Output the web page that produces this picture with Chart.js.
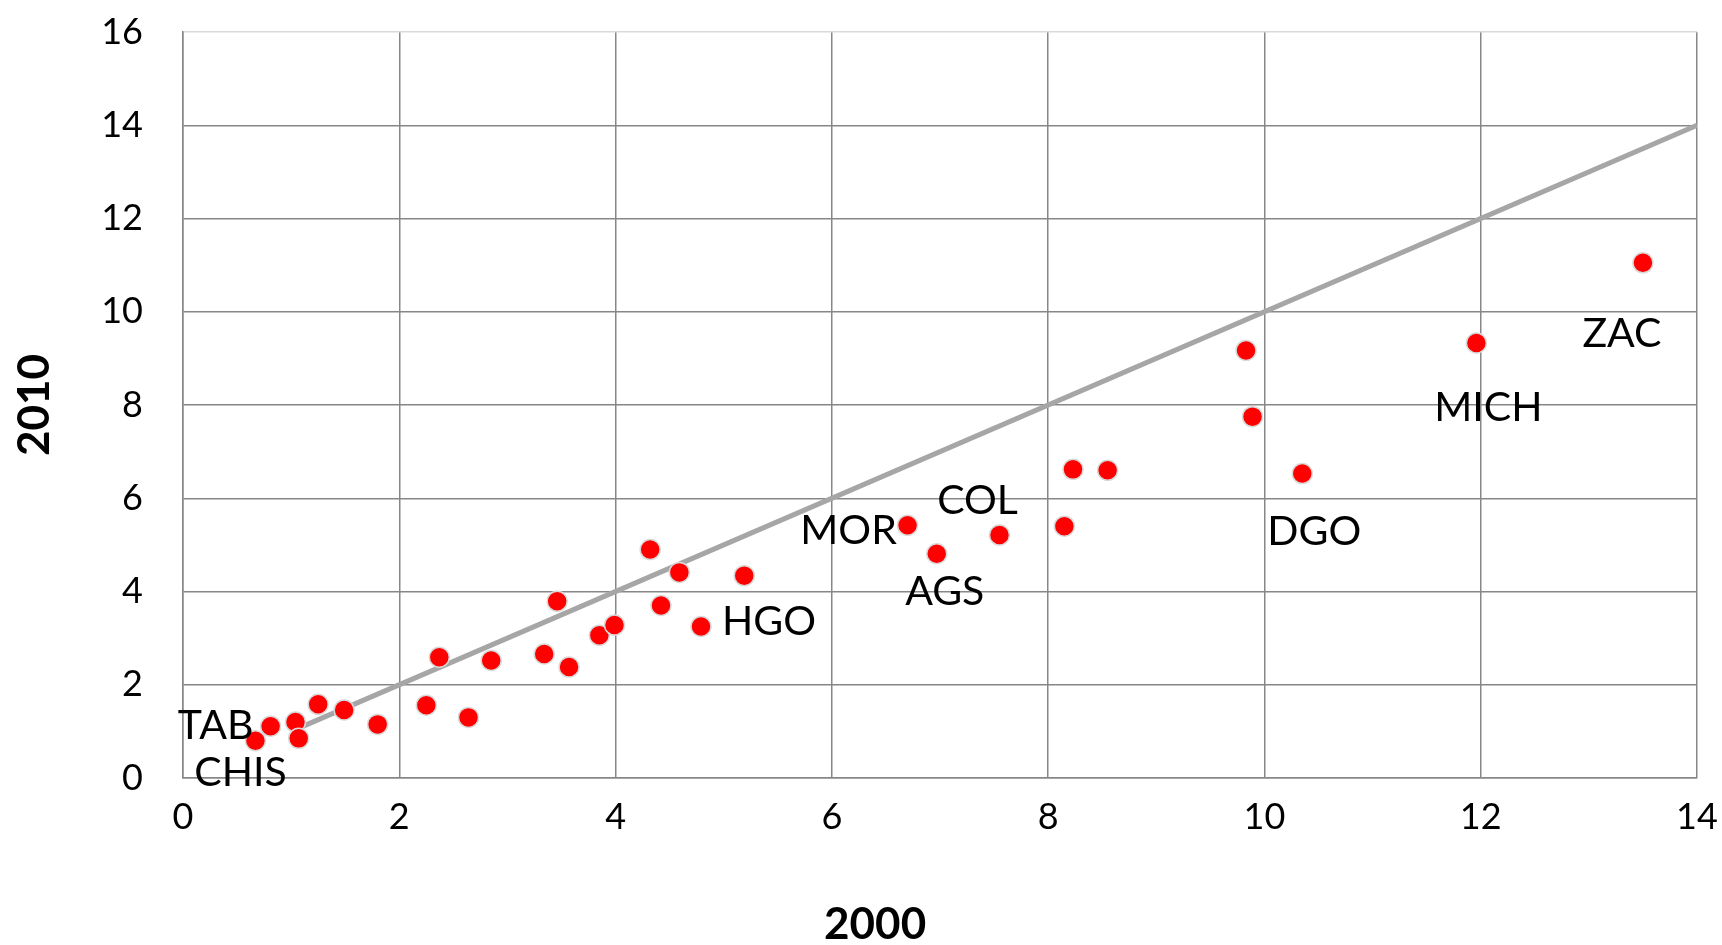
<!DOCTYPE html>
<html>
<head>
<meta charset="utf-8">
<script src="https://cdn.jsdelivr.net/npm/chart.js@4.4.1/dist/chart.umd.min.js"></script>
<style>
  html, body { margin: 0; padding: 0; background: #fff; }
</style>
</head>
<body>
<canvas id="chart" width="1722" height="945"></canvas>
<script>
// values
const x2000 = [0.67, 0.81, 1.04, 1.07, 1.25, 1.49, 1.80, 2.25, 2.37, 2.64, 2.85, 3.34, 3.46, 3.57, 3.85, 3.99,
  4.32, 4.42, 4.59, 4.79, 5.19, 6.70, 6.97, 7.55, 8.15, 8.23, 8.55, 9.83, 9.89, 10.35, 11.96, 13.50];
const y2010 = [0.80, 1.11, 1.20, 0.85, 1.58, 1.46, 1.15, 1.56, 2.59, 1.30, 2.52, 2.66, 3.79, 2.38, 3.06, 3.28,
  4.90, 3.70, 4.41, 3.25, 4.34, 5.42, 4.81, 5.21, 5.40, 6.62, 6.60, 9.17, 7.75, 6.53, 9.33, 11.05];
const stateNames = ['CHIS', 'TAB', '', '', '', '', '', '', '', '', '', '', '', '', '', '',
  '', '', '', 'HGO', '', 'MOR', 'AGS', 'COL', '', '', '', '', '', 'DGO', 'MICH', 'ZAC'];
const refLineX = [1, 14];
const refLineY = [1, 14];
const xTitle = '2000';
const yTitle = '2010';

// where each label sits relative to its point (px)
const labelOffsets = {
  TAB: [-55, 0], CHIS: [-15, 32], HGO: [68, -5], MOR: [-59, 5], AGS: [8, 38],
  COL: [-22, -34], DGO: [12, 58], MICH: [12, 65], ZAC: [-21, 71]
};

const fontFamily = 'Lato, "Open Sans", sans-serif';

const pointLabels = {
  id: 'pointLabels',
  afterDatasetsDraw(chart) {
    const { ctx, scales } = chart;
    ctx.save();
    ctx.font = '41px ' + fontFamily;
    ctx.fillStyle = '#000';
    ctx.textAlign = 'center';
    ctx.textBaseline = 'middle';
    stateNames.forEach((name, i) => {
      if (!name) return;
      const off = labelOffsets[name] || [0, 0];
      const px = scales.x.getPixelForValue(x2000[i]);
      const py = scales.y.getPixelForValue(y2010[i]);
      ctx.fillText(name, px + off[0], py + off[1]);
    });
    // x axis title, sits a little left of the plot centre in the original
    ctx.font = 'bold 44px ' + fontFamily;
    ctx.fillText(xTitle, scales.x.getPixelForValue(6.4), 925);
    ctx.restore();
  }
};

const ctx = document.getElementById('chart').getContext('2d');
new Chart(ctx, {
  type: 'scatter',
  data: {
    datasets: [
      {
        label: 'Estados',
        data: x2000.map((x, i) => ({ x: x, y: y2010[i] })),
        backgroundColor: '#FF0000',
        borderColor: '#D9D9D9',
        borderWidth: 1.5,
        pointRadius: 10,
        order: 0
      },
      {
        type: 'line',
        label: 'y = x',
        data: refLineX.map((x, i) => ({ x: x, y: refLineY[i] })),
        borderColor: '#A6A6A6',
        borderWidth: 5,
        pointRadius: 0,
        fill: false,
        order: 1
      }
    ]
  },
  options: {
    responsive: false,
    animation: false,
    devicePixelRatio: 1,
    layout: { padding: { top: 32, right: 25, left: 0, bottom: 0 } },
    plugins: {
      legend: { display: false },
      tooltip: { enabled: false }
    },
    scales: {
      x: {
        type: 'linear',
        min: 0,
        max: 14,
        ticks: { stepSize: 2, color: '#000', padding: 0, font: { family: fontFamily, size: 36 } },
        grid: { color: '#878787', lineWidth: 1.5, drawTicks: true, tickLength: 18, tickColor: 'rgba(0,0,0,0)' },
        border: { color: '#878787', width: 1.5 },
        title: { display: false, text: xTitle },
        afterFit(scale) { scale.height = 167; }
      },
      y: {
        type: 'linear',
        min: 0,
        max: 16,
        ticks: { stepSize: 2, color: '#000', padding: 0, font: { family: fontFamily, size: 36 } },
        grid: {
          color: (c) => (c.tick && c.tick.value === 16 ? '#D9D9D9' : '#878787'),
          lineWidth: 1.5,
          drawTicks: true,
          tickLength: 40,
          tickColor: 'rgba(0,0,0,0)'
        },
        border: { color: '#878787', width: 1.5 },
        title: { display: true, text: yTitle, color: '#000', padding: { top: 8, bottom: 8 },
          font: { family: fontFamily, size: 44, weight: 'bold', lineHeight: 1.2 } },
        afterFit(scale) { scale.width = 183; }
      }
    }
  },
  plugins: [pointLabels]
});
</script>
</body>
</html>
